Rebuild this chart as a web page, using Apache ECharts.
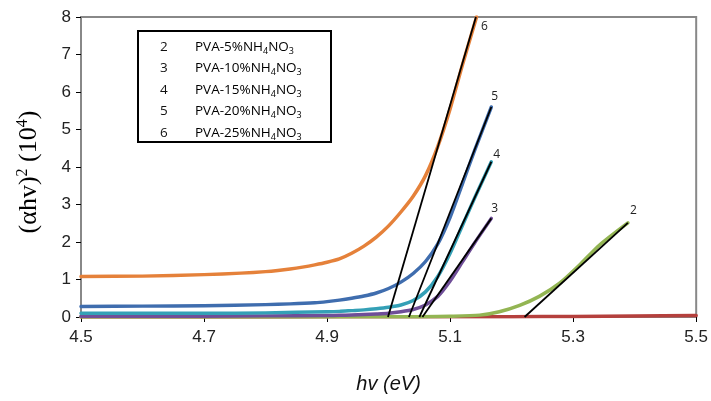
<!DOCTYPE html>
<html><head><meta charset="utf-8">
<script src="https://cdn.jsdelivr.net/npm/echarts@6/dist/echarts.min.js"></script>
<style>html,body{margin:0;padding:0;background:#fff}#c{width:711px;height:401px}</style>
</head><body><div id="c"></div>
<script>
// ---- data ----
const xTicks = [4.5, 4.7, 4.9, 5.1, 5.3, 5.5];
const yTicks = [0, 1, 2, 3, 4, 5, 6, 7, 8];
const legendNums = ['2', '3', '4', '5', '6'];
const legendNames = ['PVA-5%', 'PVA-10%', 'PVA-15%', 'PVA-20%', 'PVA-25%'];

const curve1 = [[4.5,0],[4.8,0.003],[5.0,0.005],[5.2,0.01],[5.3,0.015],[5.4,0.025],[5.5,0.04]];
const curve2 = [[4.5,0],[4.8,0],[4.95,0.005],[5.05,0.01],[5.1,0.02],[5.148,0.05],[5.18,0.14],[5.213,0.31],[5.245,0.55],[5.278,0.9],[5.31,1.38],[5.343,1.92],[5.389,2.51]];
const curve3 = [[4.5,0.02],[4.7,0.02],[4.8,0.03],[4.9,0.04],[4.92,0.045],[4.94,0.055],[4.96,0.065],[4.98,0.08],[5.0,0.1],[5.02,0.14],[5.04,0.2],[5.06,0.32],[5.08,0.55],[5.1,0.96],[5.12,1.47],[5.14,1.98],[5.167,2.63]];
const curve4 = [[4.5,0.1],[4.7,0.1],[4.8,0.11],[4.9,0.14],[4.92,0.15],[4.94,0.17],[4.96,0.19],[4.98,0.22],[5.0,0.26],[5.02,0.32],[5.04,0.44],[5.06,0.67],[5.08,1.08],[5.1,1.7],[5.12,2.44],[5.14,3.18],[5.167,4.14]];
const curve5 = [[4.5,0.28],[4.6,0.29],[4.7,0.3],[4.8,0.33],[4.84,0.35],[4.88,0.38],[4.9,0.41],[4.92,0.45],[4.94,0.5],[4.96,0.56],[4.98,0.64],[5.0,0.76],[5.02,0.93],[5.04,1.16],[5.06,1.48],[5.08,1.95],[5.1,2.66],[5.12,3.55],[5.14,4.45],[5.167,5.6]];
const curve6 = [[4.5,1.08],[4.6,1.09],[4.7,1.13],[4.76,1.17],[4.8,1.21],[4.82,1.24],[4.84,1.28],[4.86,1.33],[4.88,1.39],[4.9,1.46],[4.92,1.55],[4.94,1.7],[4.96,1.89],[4.98,2.13],[5.0,2.43],[5.02,2.8],[5.04,3.22],[5.06,3.77],[5.08,4.55],[5.1,5.55],[5.12,6.72],[5.143,8.0]];

const fit2 = [[5.221,0],[5.389,2.51]];
const fit3 = [[5.055,0],[5.167,2.63]];
const fit4 = [[5.050,0],[5.167,4.14]];
const fit5 = [[5.033,0],[5.167,5.6]];
const fit6 = [[4.999,0],[5.142,8.0]];

const X0 = 4.5; // axis origin (ticks counted from 0 in shifted units)
const shift = arr => arr.map(p => [+(p[0] - X0).toFixed(4), p[1]]);

const colors = {c1:'#B5403D', c2:'#93B553', c3:'#6F4E98', c4:'#34A0B6', c5:'#3F6DAE', c6:'#E5813A'};

function curve(name, data, color) {
  return {name, type:'line', data: shift(data), smooth: 0.25, showSymbol:false,
    lineStyle:{color, width:3.5, cap:'round', join:'round'}, itemStyle:{color}, animation:false, z:2};
}
function fit(name, data, label, off) {
  return {name, type:'line', data: shift(data), showSymbol:false,
    lineStyle:{color:'#000', width:1.8}, itemStyle:{color:'#000'}, animation:false, z:5,
    endLabel:{show:true, formatter: label, offset: off, color:'#222', distance:0,
      fontFamily:'Open Sans, Liberation Sans, sans-serif', fontSize:12}};
}

const chart = echarts.init(document.getElementById('c'), null, {renderer:'canvas'});

const legendTop = 47, legendStep = 21.5;
const graphics = [
  {type:'rect', shape:{x:138, y:31, width:193, height:111},
   style:{fill:'#fff', stroke:'#000', lineWidth:2}, z:100},
  {type:'text', x:29, y:172, rotation:Math.PI/2, z:101,
   style:{text:'{t|(αhv)}{s|2}{t| (10}{s|4}{t|)}', align:'center', verticalAlign:'middle',
     rich:{t:{fontFamily:'Liberation Serif, Times New Roman, serif', fontSize:26, color:'#111'},
           s:{fontFamily:'Liberation Serif, serif', fontSize:16, color:'#111', padding:[0,0,12,0]}}}}
];
legendNums.forEach((n, i) => {
  graphics.push({type:'text', x:160, y:legendTop + i*legendStep, z:101,
    style:{text:n, font:'13.5px "Open Sans", sans-serif', fill:'#111', verticalAlign:'middle'}});
  graphics.push({type:'text', x:195, y:legendTop + i*legendStep, z:101,
    style:{text:'{a|' + legendNames[i] + 'NH}{s|4}{a|NO}{s|3}', verticalAlign:'middle',
      rich:{a:{fontFamily:'Open Sans, sans-serif', fontSize:13.5, color:'#111'},
            s:{fontFamily:'Open Sans, sans-serif', fontSize:9, color:'#111', padding:[8,0,0,0]}}}});
});

chart.setOption({
  backgroundColor:'#fff',
  animation:false,
  grid:{left:81, right:14, top:17, bottom:84, show:true, borderColor:'#888', borderWidth:2, backgroundColor:'transparent'},
  xAxis:{type:'value', min:0, max:+(xTicks[xTicks.length-1]-X0).toFixed(4), interval:0.2,
    axisLine:{show:true, lineStyle:{color:'#888', width:2}},
    axisTick:{show:true, inside:false, length:5, lineStyle:{color:'#000', width:1}},
    splitLine:{show:false},
    axisLabel:{formatter: v => (v + X0).toFixed(1), fontFamily:'Liberation Sans, Arial, sans-serif', fontSize:17, color:'#222', margin:12},
    name:'hv (eV)', nameLocation:'middle', nameGap:57,
    nameTextStyle:{fontFamily:'Liberation Sans, Arial, sans-serif', fontSize:20, fontStyle:'italic', color:'#111'}},
  yAxis:{type:'value', min:yTicks[0], max:yTicks[yTicks.length-1], interval:1,
    axisLine:{show:true, lineStyle:{color:'#888', width:2}},
    axisTick:{show:true, inside:false, length:5, lineStyle:{color:'#000', width:1}},
    splitLine:{show:false},
    axisLabel:{fontFamily:'Liberation Sans, Arial, sans-serif', fontSize:17, color:'#222', margin:10}},
  graphic: graphics,
  series:[
    curve('1', curve1, colors.c1),
    curve('2', curve2, colors.c2),
    curve('3', curve3, colors.c3),
    curve('4', curve4, colors.c4),
    curve('5', curve5, colors.c5),
    curve('6', curve6, colors.c6),
    fit('f2', fit2, '2', [2,-12]),
    fit('f3', fit3, '3', [0,-10]),
    fit('f4', fit4, '4', [2,-7]),
    fit('f5', fit5, '5', [0,-10]),
    fit('f6', fit6, '6', [5,10])
  ]
});
</script></body></html>
